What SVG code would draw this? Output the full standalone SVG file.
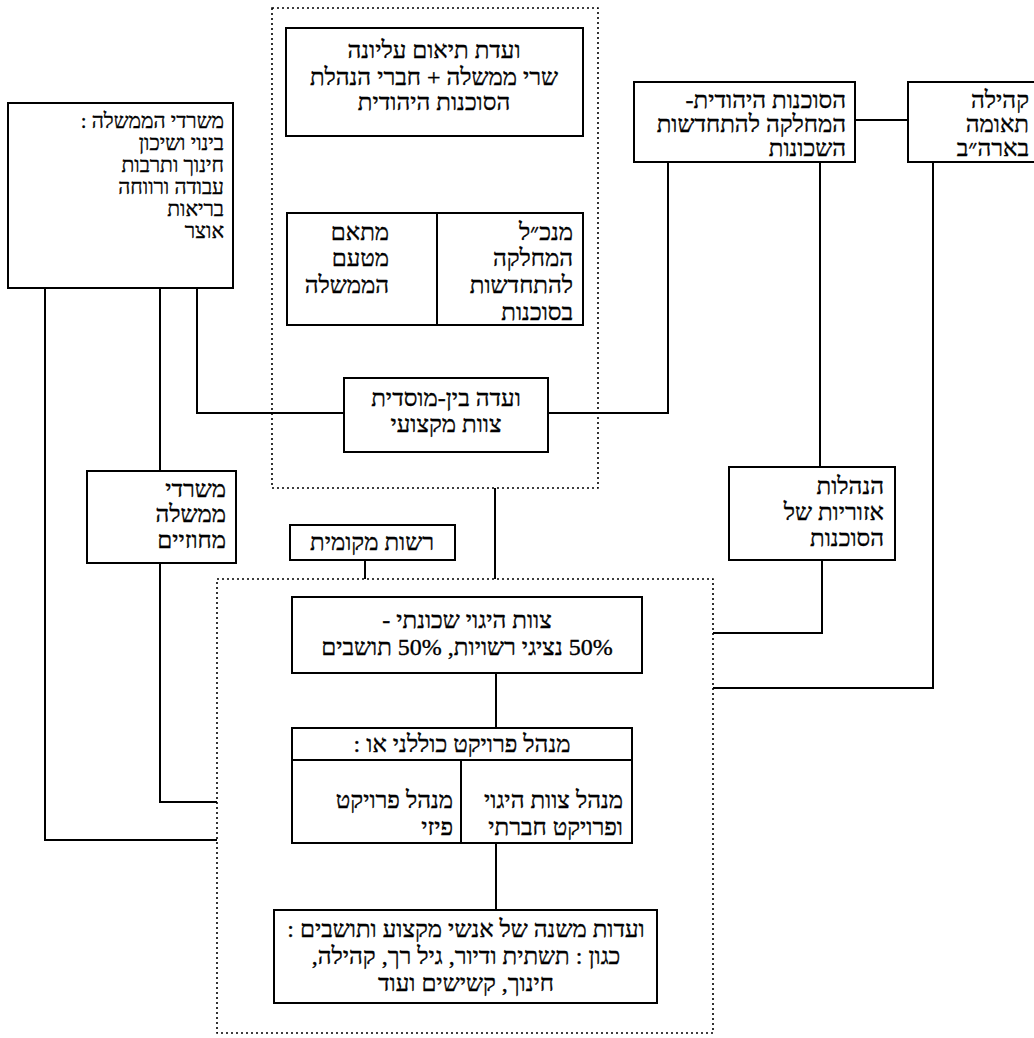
<svg xmlns="http://www.w3.org/2000/svg" width="1034" height="1038" viewBox="0 0 1034 1038">
<style>
.bg{fill:#fff}
.box{fill:#fff;stroke:#000;stroke-width:2}
.dot{fill:none;stroke:#000;stroke-width:1.6;stroke-dasharray:2 3}
.ln{fill:none;stroke:#000;stroke-width:2}
text{font-family:"Liberation Serif","DejaVu Serif",serif;font-size:24px;fill:#000;stroke:#000;stroke-width:0.35;direction:rtl;unicode-bidi:embed}
.c{text-anchor:middle}
.r{text-anchor:start}
.s{font-size:21px}
</style>
<rect class="bg" x="0" y="0" width="1034" height="1038"/>
<rect class="dot" x="272" y="8" width="326" height="480"/>
<rect class="dot" x="217" y="579" width="496" height="454"/>
<g id="connectors">
<path class="ln" d="M855,120 H908"/>
<path class="ln" d="M668,162 V413 H548"/>
<path class="ln" d="M820,162 V467"/>
<path class="ln" d="M933,162 V688 H713"/>
<path class="ln" d="M822,560 V633 H713"/>
<path class="ln" d="M197,288 V413 H344"/>
<path class="ln" d="M160,288 V471"/>
<path class="ln" d="M160,563 V802 H217"/>
<path class="ln" d="M45,288 V840 H217"/>
<path class="ln" d="M365,560 V579"/>
<path class="ln" d="M495,488 V579"/>
<path class="ln" d="M496,673 V728"/>
<path class="ln" d="M496,843 V910"/>
</g>
<g id="n-top">
<rect class="box" x="286" y="28" width="297" height="108"/>
<text class="c" x="434" y="58">ועדת תיאום עליונה</text>
<text class="c" x="434" y="85">שרי ממשלה + חברי הנהלת</text>
<text class="c" x="434" y="110">הסוכנות היהודית</text>
</g>
<g id="n-split">
<rect class="box" x="287" y="213" width="296" height="112"/>
<path class="ln" d="M437,213 V325"/>
<text class="r" x="573" y="240">מנכ״ל</text>
<text class="r" x="573" y="266">המחלקה</text>
<text class="r" x="573" y="293">להתחדשות</text>
<text class="r" x="573" y="320">בסוכנות</text>
<text class="r" x="389" y="240">מתאם</text>
<text class="r" x="389" y="266">מטעם</text>
<text class="r" x="389" y="293">הממשלה</text>
</g>
<g id="n-inter">
<rect class="box" x="344" y="378" width="204" height="74"/>
<text class="c" x="446" y="406">ועדה בין-מוסדית</text>
<text class="c" x="446" y="432">צוות מקצועי</text>
</g>
<g id="n-gov">
<rect class="box" x="8" y="103" width="225" height="185"/>
<text class="r s" x="224" y="128">משרדי הממשלה :</text>
<text class="r s" x="224" y="150">בינוי ושיכון</text>
<text class="r s" x="224" y="172">חינוך ותרבות</text>
<text class="r s" x="224" y="194">עבודה ורווחה</text>
<text class="r s" x="224" y="216">בריאות</text>
<text class="r s" x="224" y="238">אוצר</text>
</g>
<g id="n-agency">
<rect class="box" x="634" y="82" width="221" height="80"/>
<text class="r" x="846" y="108">הסוכנות היהודית-</text>
<text class="r" x="846" y="132">המחלקה להתחדשות</text>
<text class="r" x="846" y="156">השכונות</text>
</g>
<g id="n-twin">
<rect class="box" x="908" y="82" width="140" height="80"/>
<text class="r" x="1029" y="108">קהילה</text>
<text class="r" x="1029" y="132">תאומה</text>
<text class="r" x="1029" y="156">בארה״ב</text>
</g>
<g id="n-district">
<rect class="box" x="87" y="471" width="149" height="92"/>
<text class="r" x="226" y="497">משרדי</text>
<text class="r" x="226" y="522">ממשלה</text>
<text class="r" x="226" y="548">מחוזיים</text>
</g>
<g id="n-local">
<rect class="box" x="290" y="525" width="165" height="35"/>
<text class="c" x="372" y="550">רשות מקומית</text>
</g>
<g id="n-regional">
<rect class="box" x="729" y="467" width="166" height="93"/>
<text class="r" x="884" y="494">הנהלות</text>
<text class="r" x="884" y="520">אזוריות של</text>
<text class="r" x="884" y="546">הסוכנות</text>
</g>
<g id="n-steering">
<rect class="box" x="292" y="597" width="350" height="76"/>
<text class="c" x="467" y="628">צוות היגוי שכונתי -</text>
<text class="c" x="467" y="655">50% נציגי רשויות, 50% תושבים</text>
</g>
<g id="n-pm">
<rect class="box" x="292" y="728" width="340" height="115"/>
<path class="ln" d="M292,760 H632 M461,760 V843"/>
<text class="c" x="462" y="752">מנהל פרויקט כוללני או :</text>
<text class="r" x="623" y="808">מנהל צוות היגוי</text>
<text class="r" x="623" y="835">ופרויקט חברתי</text>
<text class="r" x="453" y="808">מנהל פרויקט</text>
<text class="r" x="453" y="835">פיזי</text>
</g>
<g id="n-sub">
<rect class="box" x="274" y="910" width="383" height="93"/>
<text class="c" x="466" y="937">ועדות משנה של אנשי מקצוע ותושבים :</text>
<text class="c" x="466" y="964">כגון : תשתית ודיור, גיל רך, קהילה,</text>
<text class="c" x="466" y="991">חינוך, קשישים ועוד</text>
</g>
</svg>
